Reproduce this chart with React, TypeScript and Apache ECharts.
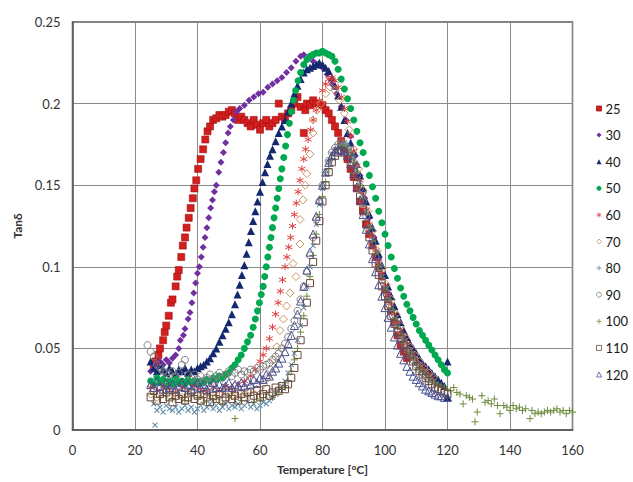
import React, { useEffect, useRef } from "react";
import * as echarts from "echarts";

const seriesNames = ["25", "30", "40", "50", "60", "70", "80", "90", "100", "110", "120"];
const xTicks = [0, 20, 40, 60, 80, 100, 120, 140, 160];
const yTicks = [0, 0.05, 0.1, 0.15, 0.2, 0.25];

const s25 = [[26,0.038],[26.5,0.042],[27,0.04],[27.5,0.046],[28,0.05],[29,0.055],[29.5,0.06],[30,0.064],[30.8,0.07],[31.5,0.078],[32,0.08],[33,0.088],[33.5,0.094],[34,0.098],[34.8,0.106],[35.3,0.113],[36,0.118],[36.5,0.124],[37.2,0.13],[37.8,0.136],[38.5,0.142],[39,0.148],[39.6,0.153],[40.2,0.16],[41,0.166],[41.8,0.172],[42.5,0.178],[43.2,0.183],[44,0.186],[45,0.19],[46,0.191],[47,0.193],[48,0.192],[49,0.193],[50,0.195],[51,0.196],[52,0.194],[53,0.19],[54,0.192],[55,0.19],[56,0.188],[57,0.186],[58,0.19],[59,0.187],[60,0.184],[61,0.188],[62,0.19],[63,0.186],[64,0.188],[65,0.19],[66,0.2],[67,0.192],[68,0.19],[69,0.194],[70,0.196],[71,0.2],[72,0.204],[73,0.198],[74,0.182],[74.5,0.196],[75,0.2],[76,0.199],[77,0.202],[78,0.2],[79,0.2],[80,0.199],[81,0.196],[82,0.194],[83,0.19],[84,0.186],[85,0.182],[86,0.177],[87,0.172],[88,0.166],[89,0.16],[90,0.155],[91,0.148],[92,0.14],[93,0.134],[94,0.126],[95,0.12],[96,0.113],[97,0.106],[98,0.1],[99,0.094],[100,0.086],[101,0.08],[102,0.073],[103,0.066],[104,0.058],[105,0.052],[106,0.048],[107,0.044]];
const s30 = [[25,0.036],[26,0.04],[27,0.038],[28,0.042],[29,0.04],[30,0.043],[31,0.041],[32,0.044],[33,0.046],[34,0.05],[34.5,0.055],[35.5,0.058],[36,0.062],[37,0.068],[37.6,0.072],[38.2,0.078],[38.8,0.084],[39.4,0.09],[40,0.096],[40.6,0.1],[41.2,0.106],[41.8,0.112],[42.4,0.118],[43,0.124],[43.6,0.13],[44.2,0.136],[44.8,0.141],[45.4,0.146],[46,0.15],[46.8,0.158],[47.5,0.164],[48.3,0.17],[49,0.176],[49.8,0.182],[50.5,0.186],[51.5,0.19],[52.5,0.195],[53.5,0.197],[55,0.199],[56.5,0.202],[58,0.204],[59.5,0.206],[61,0.207],[62.5,0.21],[64,0.212],[65.5,0.214],[67,0.216],[68.5,0.219],[70,0.222],[71.5,0.226],[73,0.229],[74,0.23],[75.5,0.228],[77,0.226],[78.5,0.224],[80,0.222],[81.5,0.218],[83,0.212],[84.5,0.206],[86,0.198],[87.5,0.19],[89,0.18],[90.5,0.168],[92,0.156],[93.5,0.142],[95,0.13],[96.5,0.118],[98,0.105],[99.5,0.094],[101,0.084],[102.5,0.074],[104,0.065],[105.5,0.057],[107,0.05],[108.5,0.045],[110,0.041],[111.5,0.038],[113,0.035]];
const s40 = [[25,0.042],[26,0.038],[27,0.036],[28,0.04],[29,0.037],[30,0.035],[31,0.038],[32,0.036],[33,0.034],[34,0.037],[35,0.036],[36,0.038],[37,0.035],[38,0.037],[39,0.036],[40,0.038],[41,0.039],[42,0.04],[43,0.042],[44,0.044],[45,0.047],[46,0.05],[47,0.054],[48,0.058],[49,0.062],[50,0.066],[51,0.071],[52,0.077],[52.8,0.083],[53.5,0.089],[54.2,0.095],[55,0.101],[55.7,0.108],[56.4,0.115],[57.1,0.122],[57.8,0.128],[58.5,0.134],[59.2,0.14],[60,0.146],[60.8,0.152],[61.6,0.158],[62.4,0.163],[63.2,0.168],[64,0.172],[65,0.177],[66,0.182],[67,0.186],[68,0.19],[69,0.195],[70,0.2],[71,0.206],[72,0.211],[73,0.215],[74,0.219],[75,0.221],[76,0.222],[77,0.223],[78,0.224],[79,0.225],[80,0.224],[81,0.222],[82,0.22],[83,0.216],[84,0.211],[85,0.205],[86,0.198],[87,0.19],[88,0.182],[89,0.176],[90,0.17],[91,0.163],[92,0.156],[93,0.148],[94,0.14],[95,0.132],[96,0.124],[97,0.116],[98,0.108],[99,0.101],[100,0.095],[101,0.088],[102,0.082],[103,0.076],[104,0.071],[105,0.066],[106,0.061],[107,0.057],[108,0.053],[109,0.05],[110,0.047],[111,0.044],[112,0.041],[113,0.039],[114,0.037],[115,0.035],[116,0.033],[117,0.031],[118,0.029],[119,0.027],[120,0.042],[120,0.02]];
const s50 = [[25,0.03],[26,0.028],[27,0.032],[28,0.029],[29,0.031],[30,0.027],[31,0.03],[32,0.028],[33,0.031],[34,0.029],[35,0.03],[36,0.028],[37,0.031],[38,0.029],[39,0.03],[40,0.028],[41,0.03],[42,0.029],[43,0.031],[44,0.03],[45,0.032],[46,0.031],[47,0.033],[48,0.032],[49,0.034],[50,0.035],[51,0.038],[52,0.04],[53,0.043],[54,0.046],[55,0.05],[56,0.054],[57,0.058],[57.8,0.063],[58.5,0.068],[59.2,0.073],[59.8,0.078],[60.4,0.083],[61,0.088],[61.5,0.094],[62,0.1],[62.5,0.106],[63,0.112],[63.5,0.118],[64,0.124],[64.5,0.13],[65,0.136],[65.5,0.142],[66,0.148],[66.5,0.154],[67,0.16],[67.6,0.167],[68.2,0.174],[68.8,0.181],[69.4,0.188],[70,0.195],[70.7,0.202],[71.4,0.208],[72.2,0.214],[73,0.219],[74,0.224],[75,0.227],[76,0.229],[77,0.23],[78,0.231],[79,0.231],[80,0.232],[81,0.231],[82,0.23],[83,0.229],[84,0.226],[85,0.221],[86,0.215],[87,0.209],[88,0.203],[89,0.197],[90,0.19],[91,0.183],[92,0.176],[93,0.17],[94,0.163],[95,0.156],[96,0.149],[97,0.142],[98,0.134],[99,0.127],[100,0.12],[101,0.113],[102,0.106],[103,0.099],[104,0.093],[105,0.087],[106,0.082],[107,0.077],[108,0.073],[109,0.069],[110,0.065],[111,0.061],[112,0.058],[113,0.055],[114,0.052],[115,0.049],[116,0.046],[117,0.043],[118,0.04],[119,0.037],[120,0.035]];
const s60 = [[25,0.026],[27,0.024],[29,0.027],[31,0.025],[33,0.023],[35,0.026],[37,0.024],[39,0.027],[41,0.025],[43,0.023],[45,0.026],[47,0.024],[49,0.027],[51,0.025],[53,0.028],[55,0.03],[57,0.033],[58.5,0.037],[60,0.042],[61,0.046],[62,0.05],[63,0.056],[64,0.063],[65,0.071],[65.8,0.078],[66.5,0.085],[67.2,0.092],[68,0.1],[68.6,0.106],[69.2,0.112],[69.8,0.118],[70.4,0.125],[71,0.132],[71.6,0.139],[72.2,0.146],[72.8,0.153],[73.4,0.16],[74,0.166],[74.6,0.172],[75.4,0.178],[76.2,0.184],[77,0.19],[78,0.196],[79,0.202],[80,0.208],[81,0.212],[82,0.215],[83,0.216],[84,0.214],[85,0.21],[86,0.204],[87,0.197],[88,0.189],[89,0.18],[90,0.171],[91,0.162],[92,0.153],[93,0.144],[94,0.135],[95,0.126],[96,0.118],[97,0.11],[98,0.103],[99,0.096],[100,0.089],[101,0.083],[102,0.077],[103,0.071],[104,0.066],[105,0.061],[106,0.057],[107,0.053],[108,0.049],[109,0.046],[110,0.043],[111,0.04],[112,0.038],[113,0.036],[114,0.034],[115,0.032]];
const s70 = [[25,0.022],[27,0.02],[29,0.024],[31,0.021],[33,0.023],[35,0.02],[37,0.022],[39,0.024],[41,0.021],[43,0.023],[45,0.02],[47,0.022],[49,0.024],[51,0.021],[53,0.023],[55,0.022],[57,0.024],[59,0.025],[61,0.028],[62.5,0.032],[63.5,0.037],[64.5,0.043],[65.4,0.051],[66.4,0.061],[67.5,0.068],[68.5,0.076],[69.6,0.084],[70.6,0.102],[71.5,0.094],[72.8,0.114],[72.8,0.129],[73.8,0.141],[74.5,0.15],[75,0.157],[76,0.169],[77,0.182],[77,0.19],[78.2,0.196],[79.5,0.2],[81,0.206],[82.5,0.21],[84,0.208],[85.5,0.202],[87,0.194],[88.5,0.184],[90,0.172],[91.5,0.16],[93,0.147],[94.5,0.134],[96,0.122],[97.5,0.11],[99,0.099],[100.5,0.089],[102,0.08],[103.5,0.071],[105,0.064],[106.5,0.057],[108,0.051],[109.5,0.046],[111,0.042],[112.5,0.038],[114,0.035],[115.5,0.032]];
const s80 = [[26.4,0.003],[26,0.016],[27,0.012],[28,0.014],[29,0.011],[30,0.015],[31,0.013],[32,0.012],[33,0.014],[34,0.011],[35,0.013],[36,0.015],[37,0.012],[38,0.014],[39,0.011],[40,0.013],[41,0.015],[42,0.012],[43,0.014],[44,0.016],[45,0.013],[46,0.015],[47,0.012],[48,0.014],[49,0.016],[50,0.013],[51,0.015],[52,0.014],[53,0.016],[54,0.013],[55,0.015],[56,0.017],[57,0.014],[58,0.016],[59,0.013],[60,0.015],[61,0.017],[62,0.016],[63,0.018],[64,0.02],[65,0.022],[66,0.024],[67,0.027],[68,0.03],[69,0.035],[70,0.04],[71,0.047],[72,0.055],[73,0.064],[74,0.075],[75,0.088],[76,0.1],[77,0.113],[78,0.126],[79,0.138],[80,0.148],[81,0.157],[82,0.164],[83,0.169],[84,0.172],[85,0.174],[86,0.175],[87,0.176],[88,0.175],[89,0.172],[90,0.167],[91,0.16],[92,0.152],[93,0.143],[94,0.134],[95,0.125],[96,0.117],[97,0.109],[98,0.101],[99,0.094],[100,0.087],[101,0.08],[102,0.074],[103,0.068],[104,0.063],[105,0.058],[106,0.054],[107,0.05],[108,0.047],[109,0.044],[110,0.041],[111,0.038],[112,0.036],[113,0.034],[114,0.032],[115,0.03],[116,0.028]];
const s90 = [[24,0.052],[25,0.048],[26,0.045],[27,0.04],[28,0.038],[29,0.036],[30,0.035],[31,0.034],[32,0.036],[33,0.033],[34,0.035],[35,0.04],[36,0.043],[37,0.034],[38,0.032],[39,0.034],[40,0.031],[41,0.033],[42,0.03],[43,0.032],[44,0.034],[45,0.031],[46,0.033],[47,0.035],[48,0.032],[49,0.034],[50,0.036],[51,0.033],[52,0.035],[53,0.037],[54,0.034],[55,0.036],[56,0.035],[57,0.037],[58,0.036],[59,0.038],[60,0.037],[61,0.039],[62,0.04],[63,0.041],[64,0.043],[65,0.045],[66,0.047],[67,0.05],[68,0.053],[69,0.057],[70,0.062],[71,0.067],[72,0.073],[73,0.08],[74,0.088],[75,0.097],[76,0.107],[77,0.118],[78,0.129],[79,0.14],[80,0.15],[81,0.158],[82,0.165],[83,0.17],[84,0.173],[85,0.175],[86,0.176],[87,0.175],[88,0.173],[89,0.169],[90,0.163],[91,0.156],[92,0.148],[93,0.14],[94,0.131],[95,0.122],[96,0.114],[97,0.106],[98,0.099],[99,0.092],[100,0.085],[101,0.079],[102,0.073],[103,0.067],[104,0.062],[105,0.057],[106,0.053],[107,0.049],[108,0.046],[109,0.043],[110,0.04],[111,0.037],[112,0.035],[113,0.033],[114,0.031]];
const s100 = [[26,0.022],[28,0.02],[30,0.023],[32,0.019],[34,0.021],[36,0.018],[38,0.022],[40,0.02],[42,0.017],[44,0.021],[46,0.019],[48,0.016],[50,0.02],[52,0.007],[54,0.018],[56,0.021],[58,0.017],[60,0.019],[62,0.022],[64,0.02],[66,0.023],[68,0.026],[69,0.03],[70,0.036],[71,0.043],[72,0.05],[73,0.06],[74,0.07],[75,0.082],[76,0.094],[77,0.107],[78,0.12],[79,0.132],[80,0.143],[81,0.152],[82,0.16],[83,0.166],[84,0.17],[85,0.173],[86,0.174],[87,0.173],[88,0.172],[89,0.169],[90,0.164],[91,0.158],[92,0.15],[93,0.142],[94,0.133],[95,0.124],[96,0.116],[97,0.108],[98,0.1],[99,0.093],[100,0.086],[101,0.08],[102,0.074],[103,0.068],[104,0.063],[105,0.058],[106,0.054],[107,0.05],[108,0.047],[109,0.044],[110,0.041],[111,0.038],[112,0.036],[113,0.034],[114,0.032],[115,0.03],[116,0.029],[117,0.028],[118,0.027],[119,0.026],[120,0.025],[121,0.024],[122,0.026],[123,0.023],[124,0.022],[125,0.016],[126,0.021],[127,0.02],[128,0.019],[128.8,0.005],[129.5,0.011],[131,0.021],[132,0.017],[133,0.018],[134,0.016],[135,0.019],[136,0.015],[136.8,0.01],[138,0.015],[139,0.014],[140,0.012],[141,0.015],[142,0.013],[143,0.014],[144,0.012],[145,0.013],[146.4,0.007],[147,0.012],[148,0.01],[149,0.011],[150,0.01],[151,0.011],[152,0.012],[153,0.011],[154,0.012],[155,0.013],[156,0.011],[157,0.012],[158,0.01],[159,0.012],[160,0.011]];
const s110 = [[25,0.02],[26,0.024],[27,0.018],[28,0.022],[29,0.019],[30,0.023],[31,0.02],[32,0.017],[33,0.021],[34,0.019],[35,0.022],[36,0.018],[37,0.02],[38,0.023],[39,0.019],[40,0.021],[41,0.018],[42,0.022],[43,0.02],[44,0.017],[45,0.021],[46,0.019],[47,0.022],[48,0.018],[49,0.02],[50,0.023],[51,0.019],[52,0.021],[53,0.018],[54,0.022],[55,0.02],[56,0.023],[57,0.019],[58,0.021],[59,0.024],[60,0.02],[61,0.022],[62,0.025],[63,0.021],[64,0.023],[65,0.026],[66,0.024],[67,0.027],[68,0.025],[69,0.028],[70,0.032],[71,0.038],[72,0.046],[73,0.055],[74,0.066],[75,0.078],[76,0.09],[77,0.103],[78,0.116],[79,0.128],[80,0.14],[81,0.15],[82,0.158],[83,0.164],[84,0.168],[85,0.17],[86,0.171],[87,0.17],[88,0.168],[89,0.164],[90,0.158],[91,0.151],[92,0.143],[93,0.135],[94,0.126],[95,0.118],[96,0.11],[97,0.102],[98,0.095],[99,0.088],[100,0.082],[101,0.076],[102,0.07],[103,0.065],[104,0.06],[105,0.056],[106,0.052],[107,0.048],[108,0.045],[109,0.042],[110,0.039],[111,0.036],[112,0.034],[113,0.032],[114,0.03],[115,0.028],[116,0.026],[117,0.025],[118,0.024],[119,0.023],[120,0.022]];
const s120 = [[25,0.028],[26,0.026],[27,0.03],[28,0.027],[29,0.025],[30,0.029],[31,0.026],[32,0.028],[33,0.025],[34,0.027],[35,0.029],[36,0.026],[37,0.028],[38,0.025],[39,0.027],[40,0.029],[41,0.026],[42,0.028],[43,0.025],[44,0.027],[45,0.029],[46,0.026],[47,0.028],[48,0.026],[49,0.027],[50,0.029],[51,0.026],[52,0.028],[53,0.027],[54,0.029],[55,0.027],[56,0.03],[57,0.028],[58,0.031],[59,0.029],[60,0.032],[61,0.031],[62,0.034],[63,0.033],[64,0.036],[65,0.038],[66,0.041],[67,0.044],[68,0.048],[69,0.053],[70,0.058],[71,0.064],[72,0.071],[73,0.079],[74,0.088],[75,0.098],[76,0.109],[77,0.12],[78,0.131],[79,0.141],[80,0.15],[81,0.158],[82,0.164],[83,0.168],[84,0.171],[85,0.172],[86,0.172],[87,0.171],[88,0.168],[89,0.163],[90,0.157],[91,0.149],[92,0.141],[93,0.132],[94,0.123],[95,0.114],[96,0.105],[97,0.097],[98,0.089],[99,0.082],[100,0.075],[101,0.069],[102,0.063],[103,0.057],[104,0.052],[105,0.047],[106,0.043],[107,0.039],[108,0.036],[109,0.033],[110,0.031],[111,0.029],[112,0.027],[113,0.025],[114,0.024],[115,0.023],[116,0.022],[117,0.021],[118,0.021],[119,0.02],[120,0.02]];

const seriesData = [s25, s30, s40, s50, s60, s70, s80, s90, s100, s110, s120];

const PLUS = "path://M5,0L5,10M0,5L10,5";
const STAR = "path://M5,0L5,10M0.7,2.5L9.3,7.5M0.7,7.5L9.3,2.5";

const styles = [
  { symbol: "rect", size: 7, color: "#D41F1F", border: "#A01010", bw: 0.6 },
  { symbol: "diamond", size: 7, color: "#7030A0", border: "#7030A0", bw: 0 },
  { symbol: "triangle", size: 8, color: "#14286E", border: "#14286E", bw: 0 },
  { symbol: "circle", size: 7, color: "#00A84F", border: "#00A84F", bw: 0 },
  { symbol: STAR, size: 7, color: "none", border: "#E0403F", bw: 1 },
  { symbol: "diamond", size: 8, color: "none", border: "#C89560", bw: 1 },
  { symbol: PLUS, size: 7, rotate: 45, color: "none", border: "#5D8AA8", bw: 1 },
  { symbol: "circle", size: 7, color: "none", border: "#808080", bw: 1 },
  { symbol: PLUS, size: 7, color: "none", border: "#6E8B3D", bw: 1 },
  { symbol: "rect", size: 7, color: "none", border: "#6B4A3C", bw: 1 },
  { symbol: "triangle", size: 8, color: "none", border: "#4A5090", bw: 1 },
];

const FONT = "Lato, 'Liberation Sans', sans-serif";

export default function App() {
  const ref = useRef<HTMLDivElement>(null);
  useEffect(() => {
    if (!ref.current) return;
    const chart = echarts.init(ref.current, undefined, { renderer: "svg" });
    chart.setOption({
      animation: false,
      backgroundColor: "#ffffff",
      textStyle: { fontFamily: FONT },
      grid: {
        left: 72.5,
        right: 60.5,
        top: 22,
        bottom: 52,
        show: true,
        borderColor: "#555555",
        borderWidth: 1.5,
        backgroundColor: "transparent",
      },
      legend: {
        orient: "vertical",
        left: 594,
        top: 102,
        padding: 0,
        itemGap: 13.6,
        itemWidth: 5,
        itemHeight: 5,
        textStyle: { fontSize: 13, color: "#1a1a1a", fontFamily: FONT, padding: [0, 0, 0, -1] },
        data: seriesNames.map((name, i) => ({
          name,
          itemStyle: { borderWidth: styles[i].bw > 0 ? 0.8 : 0 },
        })),
      },
      xAxis: {
        type: "value",
        min: xTicks[0],
        max: xTicks[xTicks.length - 1],
        interval: 20,
        name: "Temperature [°C]",
        nameLocation: "middle",
        nameGap: 33,
        nameTextStyle: { fontSize: 12, fontWeight: "bold", color: "#333", fontFamily: FONT },
        axisLine: { show: true, lineStyle: { color: "#555555", width: 1.5 } },
        axisTick: { show: false },
        axisLabel: { fontSize: 13, color: "#333", margin: 13, fontFamily: FONT },
        splitLine: { show: true, lineStyle: { color: "#8a8a8a", width: 1 } },
      },
      yAxis: {
        type: "value",
        min: yTicks[0],
        max: yTicks[yTicks.length - 1],
        interval: 0.05,
        name: "Tanδ",
        nameLocation: "middle",
        nameGap: 45,
        nameRotate: 90,
        nameTextStyle: { fontSize: 12, fontWeight: "bold", color: "#333", fontFamily: FONT },
        axisLine: { show: true, lineStyle: { color: "#555555", width: 1.5 } },
        axisTick: { show: false },
        axisLabel: { fontSize: 13, color: "#333", margin: 12, fontFamily: FONT },
        splitLine: { show: true, lineStyle: { color: "#8a8a8a", width: 1 } },
      },
      series: seriesNames.map((name, i) => {
        const st: any = styles[i];
        return {
          name,
          type: "scatter",
          data: seriesData[i],
          symbol: st.symbol,
          symbolSize: st.size,
          symbolRotate: st.rotate || 0,
          itemStyle: {
            color: st.color,
            borderColor: st.border,
            borderWidth: st.bw,
            opacity: 1,
          },
          emphasis: { disabled: true },
        };
      }),
    });
    return () => chart.dispose();
  }, []);
  return <div ref={ref} style={{ width: 633, height: 482, position: "absolute", left: 0, top: 0 }} />;
}
